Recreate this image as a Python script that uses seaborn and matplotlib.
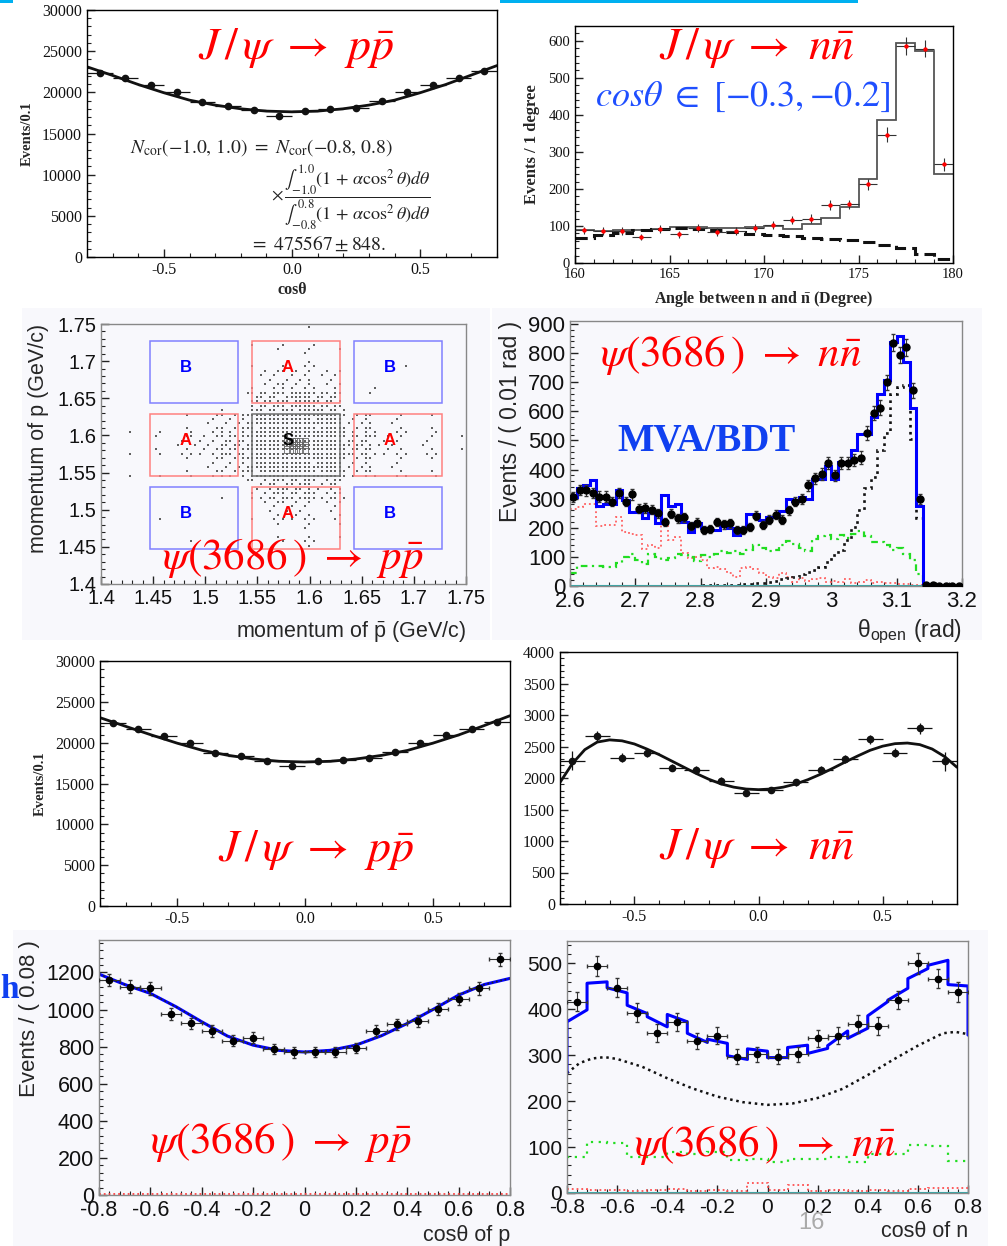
import numpy as np
import matplotlib
matplotlib.use("Agg")
import matplotlib.pyplot as plt
from matplotlib.patches import Rectangle
from matplotlib.ticker import MultipleLocator, FuncFormatter
import seaborn as sns

W, H = 1007, 1246

# ---------------- data ----------------
# J/psi -> p pbar, cos(theta), bin width 0.1 (top left and 3rd row left)
cos_c01 = [-0.75, -0.65, -0.55, -0.45, -0.35, -0.25, -0.15, -0.05,
           0.05, 0.15, 0.25, 0.35, 0.45, 0.55, 0.65, 0.75]
fit_x01 = [-0.8, -0.7, -0.6, -0.5, -0.4, -0.3, -0.2, -0.1, 0.0,
           0.1, 0.2, 0.3, 0.4, 0.5, 0.6, 0.7, 0.8]
jpsi_pp_a = [22400, 21700, 20850, 19980, 18830, 18350, 17820, 17170,
             17740, 17950, 18150, 18900, 19990, 20950, 21720, 22560]
jpsi_pp_a_fit = [23100, 22050, 20950, 19950, 19050, 18450, 18000, 17720, 17630,
                 17720, 18000, 18450, 19050, 19950, 20950, 22100, 23250]
jpsi_pp_b = [22400, 21710, 20820, 19960, 18780, 18370, 17760, 17140,
             17710, 17920, 18120, 18860, 20000, 20900, 21710, 22530]
jpsi_pp_b_fit = [23060, 22000, 20950, 19950, 19050, 18450, 18000, 17720, 17630,
                 17720, 18000, 18450, 19050, 19950, 20950, 22100, 23300]

# J/psi -> n nbar, cos(theta) (3rd row right)
jpsi_nn = [2274, 2665, 2322, 2401, 2164, 2127, 1958, 1768,
           1810, 1931, 2127, 2301, 2612, 2401, 2786, 2269]
jpsi_nn_err = [150, 80, 70, 65, 60, 60, 55, 55, 55, 55, 60, 60, 70, 70, 90, 150]
fit_x005 = [-0.80, -0.75, -0.70, -0.65, -0.60, -0.55, -0.50, -0.45, -0.40, -0.35, -0.30,
            -0.25, -0.20, -0.15, -0.10, -0.05, 0.00, 0.05, 0.10, 0.15, 0.20, 0.25,
            0.30, 0.35, 0.40, 0.45, 0.50, 0.55, 0.60, 0.65, 0.70, 0.75, 0.80]
jpsi_nn_fit = [1930, 2230, 2450, 2570, 2605, 2590, 2540, 2460, 2370, 2270, 2170,
               2070, 1980, 1905, 1855, 1825, 1815, 1825, 1855, 1905, 1975, 2060,
               2155, 2255, 2350, 2440, 2505, 2545, 2555, 2530, 2460, 2340, 2170]

# J/psi -> n nbar opening angle, cos(theta) in [-0.3,-0.2]
angle_edges = list(range(160, 181))
nn_angle_total = [88, 87, 88, 90, 92, 96, 98, 95, 95, 97,
                  100, 93, 106, 122, 150, 228, 386, 595, 573, 241]
nn_angle_bkg = [68, 75, 82, 88, 92, 95, 93, 88, 84, 79,
                75, 72, 68, 66, 63, 56, 48, 41, 25, 12]
nn_angle_data = [88, 86, 86, 70, 92, 77, 94, 84, 86, 94,
                 102, 115, 120, 156, 158, 213, 347, 586, 579, 266]
nn_angle_err = [10, 10, 10, 9, 10, 9, 10, 10, 10, 10,
                11, 11, 12, 13, 13, 15, 19, 24, 24, 17]

# psi(3686) -> p pbar momentum plane: counts per cell (rows top -> bottom)
mom_cells = [1.4400, 1.4694, 1.4988, 1.5282, 1.5576, 1.5870,
             1.6164, 1.6458, 1.6752, 1.7046, 1.7340]
mom_counts = [
    [0, 0, 0, 0, 1, 2, 1, 0, 0, 0, 0],
    [0, 0, 0, 0, 2, 5, 2, 0, 0, 1, 0],
    [0, 0, 0, 0, 9, 14, 9, 0, 1, 0, 0],
    [0, 0, 0, 2, 24, 30, 24, 2, 0, 0, 0],
    [1, 3, 6, 16, 33, 35, 33, 16, 6, 3, 1],
    [3, 6, 12, 24, 35, 35, 35, 24, 12, 6, 3],
    [1, 3, 6, 16, 33, 35, 33, 16, 6, 3, 1],
    [0, 0, 0, 2, 18, 26, 18, 1, 0, 0, 0],
    [0, 1, 0, 0, 7, 12, 7, 0, 0, 0, 0],
    [0, 0, 1, 0, 3, 5, 3, 0, 0, 0, 0],
    [0, 0, 0, 0, 0, 2, 0, 0, 0, 0, 0],
]
box_ranges = [(1.447, 1.531), (1.545, 1.629), (1.643, 1.727)]
box_names = [["B", "A", "B"], ["A", "S", "A"], ["B", "A", "B"]]

# psi(3686) -> n nbar opening angle (0.01 rad bins, 2.60 - 3.20)
theta_edges = np.round(np.arange(2.60, 3.2001, 0.01), 2)
bdt_total = [306, 335, 348, 363, 274, 283, 283, 331, 295, 255,
             255, 235, 249, 218, 312, 274, 283, 220, 186, 215,
             198, 192, 192, 215, 198, 174, 198, 247, 247, 226,
             238, 238, 258, 300, 292, 306, 300, 369, 369, 411,
             369, 426, 426, 468, 521, 521, 582, 660, 706, 837,
             860, 769, 612, 274, 0, 0, 0, 0, 0, 0]
bdt_data = [306, 330, 328, 320, 307, 307, 290, 320, 290, 315,
            265, 268, 262, 250, 220, 248, 233, 236, 207, 218,
            193, 196, 220, 212, 215, 193, 193, 203, 241, 209,
            228, 245, 228, 260, 290, 300, 346, 370, 384, 422,
            380, 422, 422, 433, 441, 525, 594, 612, 700, 836,
            793, 820, 672, 298, 5, 2, 1, 1, 1, 1]
bdt_err = [17, 18, 18, 18, 18, 18, 17, 18, 17, 18,
           16, 16, 16, 16, 15, 16, 15, 15, 14, 15,
           14, 14, 15, 15, 15, 14, 14, 14, 16, 14,
           15, 16, 15, 16, 17, 17, 19, 19, 20, 21,
           19, 21, 21, 21, 21, 23, 24, 25, 26, 29,
           28, 29, 26, 17, 2, 1, 1, 1, 1, 1]
bdt_bkg1 = [263, 272, 283, 283, 206, 209, 209, 238, 186, 180,
            175, 126, 140, 129, 209, 158, 169, 112, 95, 98,
            89, 61, 66, 57, 43, 32, 61, 64, 57, 43,
            32, 26, 43, 32, 15, 26, 18, 23, 26, 15,
            18, 15, 23, 11, 15, 21, 11, 15, 11, 9,
            7, 7, 5, 3, 0, 0, 0, 0, 0, 0]
bdt_bkg2 = [45, 70, 68, 68, 68, 65, 65, 80, 100, 110,
            90, 75, 110, 100, 90, 95, 110, 105, 100, 85,
            105, 100, 110, 120, 115, 120, 110, 125, 140, 130,
            120, 125, 140, 155, 145, 130, 120, 160, 170, 175,
            160, 175, 165, 180, 190, 170, 150, 150, 140, 125,
            130, 110, 90, 40, 0, 0, 0, 0, 0, 0]
bdt_sig = [1, 1, 1, 1, 1, 1, 1, 1, 1, 1,
           1, 1, 1, 1, 1, 1, 1, 1, 1, 1,
           2, 2, 2, 2, 2, 3, 6, 7, 9, 11,
           15, 18, 23, 26, 32, 41, 49, 55, 66, 83,
           106, 123, 158, 203, 260, 335, 375, 466, 525, 660,
           683, 689, 506, 232, 0, 0, 0, 0, 0, 0]

# psi(3686) -> p pbar, cos(theta) of p (0.08 bins)
cos_c008 = [-0.76, -0.68, -0.60, -0.52, -0.44, -0.36, -0.28, -0.20, -0.12, -0.04,
            0.04, 0.12, 0.20, 0.28, 0.36, 0.44, 0.52, 0.60, 0.68, 0.76]
cos_e008 = [-0.80, -0.72, -0.64, -0.56, -0.48, -0.40, -0.32, -0.24, -0.16, -0.08, 0.00,
            0.08, 0.16, 0.24, 0.32, 0.40, 0.48, 0.56, 0.64, 0.72, 0.80]
psi_pp = [1159, 1123, 1114, 975, 925, 884, 833, 848, 787, 769,
          772, 772, 794, 886, 920, 938, 1002, 1056, 1114, 1270]
psi_pp_err = [34, 34, 33, 31, 30, 30, 29, 29, 28, 28,
              28, 28, 28, 30, 30, 31, 32, 33, 33, 36]
psi_pp_fit = [1191, 1135, 1087, 1015, 934, 857, 808, 780, 771,
              780, 808, 859, 925, 1000, 1078, 1135, 1168]
psi_pp_bkg = [5, 6, 4, 5, 5, 4, 5, 6, 4, 5, 5, 4, 5, 6, 5, 4, 6, 5, 6, 5]

# psi(3686) -> n nbar, cos(theta) of n
psi_nn = [417, 495, 447, 393, 349, 373, 331, 343, 297, 302,
          297, 302, 337, 343, 368, 364, 420, 500, 467, 438]
psi_nn_err = [20, 22, 21, 20, 19, 19, 18, 19, 17, 17,
              17, 17, 18, 19, 19, 19, 20, 22, 21, 21]
psi_nn_tot_start = [373, 457, 447, 409, 384, 389, 348, 335, 299, 314,
                    295, 317, 304, 321, 337, 386, 420, 467, 496, 454]
psi_nn_tot_end = [399, 460, 436, 391, 362, 373, 328, 326, 291, 309,
                  295, 322, 315, 353, 359, 417, 446, 489, 507, 451]
psi_nn_tot_ends = (262, 344)
sig_x = [-0.8, -0.75, -0.7, -0.65, -0.6, -0.5, -0.4, -0.3, -0.2, -0.1, 0.0,
         0.1, 0.2, 0.3, 0.4, 0.5, 0.6, 0.7, 0.75, 0.8]
psi_nn_sig = [261, 283, 293, 296, 292, 275, 250, 228, 210, 198, 192,
              195, 207, 227, 257, 290, 321, 348, 351, 346]
psi_nn_bkg2 = [78, 112, 110, 78, 78, 90, 85, 90, 72, 73,
               68, 75, 75, 78, 68, 85, 85, 105, 103, 70]
psi_nn_bkg1 = [8, 7, 6, 5, 6, 9, 5, 6, 5, 22, 6, 17, 5, 6, 5, 6, 5, 8, 10, 10]

# ---------------- style ----------------
sns.set_theme(style="ticks")
plt.rcParams["font.family"] = ["Liberation Serif", "DejaVu Serif"]
plt.rcParams["mathtext.fontset"] = "stix"
plt.rcParams["axes.unicode_minus"] = False

RED = "#ff0000"
BG = "#f8f8fc"
SANS = "Liberation Sans"
BIG = 33
BIG_PSI = 31

fig = plt.figure(figsize=(W / 100, H / 100), dpi=100)
fig.patch.set_facecolor("white")


def pax(x0, y0, x1, y1, fc="white"):
    ax = fig.add_axes([x0 / W, 1 - y1 / H, (x1 - x0) / W, (y1 - y0) / H])
    ax.set_facecolor(fc)
    return ax


def ftext(x, y, s, **kw):
    fig.text(x / W, 1 - y / H, s, **kw)


def canvas(x0, y0, x1, y1):
    fig.patches.append(Rectangle((x0 / W, 1 - y1 / H), (x1 - x0) / W, (y1 - y0) / H,
                                 transform=fig.transFigure, fc=BG, ec="none", zorder=-5))


def root_axes(ax, xmaj, xmin, ymaj, ymin, size, sans=False, spine="black"):
    ax.xaxis.set_major_locator(MultipleLocator(xmaj))
    ax.xaxis.set_minor_locator(MultipleLocator(xmin))
    ax.yaxis.set_major_locator(MultipleLocator(ymaj))
    ax.yaxis.set_minor_locator(MultipleLocator(ymin))
    ax.tick_params(which="both", direction="in", top=False, right=False,
                   color="#222222", labelsize=size, labelcolor="#111111")
    ax.tick_params(which="major", length=6, width=1.0)
    ax.tick_params(which="minor", length=3, width=0.8)
    if sans:
        ax.tick_params(labelfontfamily=SANS)
    for s in ax.spines.values():
        s.set_color(spine)
        s.set_linewidth(1.0)
        s.set_visible(True)


gfmt = FuncFormatter(lambda v, p: "%g" % (round(v, 3) + 0.0))
f1 = FuncFormatter(lambda v, p: "%.1f" % (round(v, 3) + 0.0))

LBL_PP_J = r"$J\,/\,\psi\ \rightarrow\ p\bar{p}$"
LBL_NN_J = r"$J\,/\,\psi\ \rightarrow\ n\bar{n}$"
LBL_PP_PSI = r"$\psi(3686\,)\ \rightarrow\ p\bar{p}$"
LBL_NN_PSI = r"$\psi(3686\,)\ \rightarrow\ n\bar{n}$"

# cyan slide bars at the top
fig.patches.append(Rectangle((500 / W, 1 - 3 / H), 358 / W, 3 / H,
                             transform=fig.transFigure, fc="#00b0f0", ec="none"))
fig.patches.append(Rectangle((0, 1 - 3 / H), 13 / W, 3 / H,
                             transform=fig.transFigure, fc="#00b0f0", ec="none"))

# canvases of the ROOT (sans) plots
canvas(22, 308, 490, 640)
canvas(492, 308, 982, 640)
canvas(13, 930, 515, 1246)
canvas(510, 930, 988, 1246)

# ---------- panel 1: J/psi -> p pbar ----------
ax1 = pax(87, 10, 497, 257)
root_axes(ax1, 0.5, 0.1, 5000, 1000, 11.5)
ax1.set_xlim(-0.8, 0.8)
ax1.set_ylim(0, 30000)
ax1.xaxis.set_major_formatter(f1)
sns.lineplot(x=fit_x01, y=jpsi_pp_a_fit, ax=ax1, color="#111111", lw=2.0,
             estimator=None, sort=False, legend=False)
ax1.errorbar(cos_c01, jpsi_pp_a, xerr=0.05, yerr=150, fmt="o", ms=4.5, color="#111111",
             ecolor="#111111", elinewidth=0.9, capsize=0, zorder=5)
ax1.set_xlabel("cosθ", fontsize=11.5, fontweight="bold", labelpad=3)
ax1.set_ylabel("Events/0.1", fontsize=10.5, fontweight="bold", labelpad=6)
ftext(296, 48, LBL_PP_J, color=RED, fontsize=BIG, ha="center", va="center")
ftext(130, 148, r"$N_{\rm cor}(-1.0,\,1.0)\ =\ N_{\rm cor}(-0.8,\,0.8)$", fontsize=14,
      ha="left", va="center", color="#222222")
ftext(271, 197, r"$\times\,\dfrac{\int_{-1.0}^{1.0}(1\,+\,\alpha\cos^2\theta)d\theta}"
                r"{\int_{-0.8}^{0.8}(1\,+\,\alpha\cos^2\theta)d\theta}$",
      fontsize=13, ha="left", va="center", color="#222222")
ftext(250, 244, r"$=\ 475567 \pm 848.$", fontsize=14, ha="left", va="center", color="#222222")

# ---------- panel 2: J/psi -> n nbar opening angle ----------
ax2 = pax(575, 26, 953, 263)
root_axes(ax2, 5, 1, 100, 20, 10.5)
ax2.set_xlim(160, 180)
ax2.set_ylim(0, 640)
ax2.stairs(nn_angle_total, angle_edges, baseline=None, color="#555555", lw=1.3)
ax2.stairs(nn_angle_bkg, angle_edges, baseline=None, color="#111111", lw=2.2,
           linestyle=(0, (4, 2)))
ang_c = [e + 0.5 for e in angle_edges[:-1]]
ax2.errorbar(ang_c, nn_angle_data, xerr=0.5, yerr=nn_angle_err, fmt="none",
             ecolor="#333333", elinewidth=0.8, zorder=4)
sns.scatterplot(x=ang_c, y=nn_angle_data, ax=ax2, color=RED, s=10, linewidth=0,
                zorder=5, legend=False)
ax2.set_xlabel(r"Angle between n and $\bar{\mathregular{n}}$ (Degree)", fontsize=11.5,
               fontweight="bold", labelpad=6)
ax2.set_ylabel("Events / 1 degree", fontsize=12, fontweight="bold", labelpad=6)
ftext(757, 48, LBL_NN_J, color=RED, fontsize=BIG, ha="center", va="center")
ftext(743, 97, r"$cos\theta\ \in\ [{-}0.3,{-}0.2]$", color="#1f4fff", fontsize=26,
      ha="center", va="center")

# ---------- panel 3: psi(3686) -> p pbar momentum plane ----------
ax3 = pax(101, 324, 466, 584, fc=BG)
root_axes(ax3, 0.05, 0.01, 0.05, 0.01, 14.5, sans=True, spine="#888888")
ax3.set_xlim(1.4, 1.75)
ax3.set_ylim(1.4, 1.75)
ax3.xaxis.set_major_formatter(gfmt)
ax3.yaxis.set_major_formatter(gfmt)
cell = mom_cells[1] - mom_cells[0]
sub_x = (np.arange(7) - 3) * cell / 7
sub_y = (np.arange(5) - 2) * cell / 5
sub_pts = [(dx, dy) for dy in sub_y for dx in sub_x]
fill_order = np.argsort((np.arange(len(sub_pts)) * 0.618034) % 1.0)
dots_x, dots_y = [], []
for r, row in enumerate(mom_counts):
    cy = mom_cells[len(mom_cells) - 1 - r]
    for c, n in enumerate(row):
        cx = mom_cells[c]
        for k in fill_order[:n]:
            dots_x.append(cx + sub_pts[k][0])
            dots_y.append(cy + sub_pts[k][1])
sns.scatterplot(x=dots_x, y=dots_y, ax=ax3, s=2.5, marker="s", color="#606060",
                linewidth=0, legend=False, zorder=3)
centre_x = [mom_cells[5] + d for d in sub_x[1:6]]
centre_y = [mom_cells[5] + d for d in sub_y[1:4]]
bx, by = np.meshgrid(centre_x, centre_y)
ax3.scatter(bx.ravel(), by.ravel(), s=20, marker="s", facecolor="none",
            edgecolor="#666666", linewidth=0.6, zorder=3)
for i, (y0, y1) in enumerate(box_ranges):
    for j, (x0, x1) in enumerate(box_ranges):
        name = box_names[2 - i][j]
        col = {"A": "#ff8080", "B": "#8080ff", "S": "#707070"}[name]
        tcol = {"A": "#ff0000", "B": "#0000ff", "S": "#000000"}[name]
        ax3.add_patch(Rectangle((x0, y0), x1 - x0, y1 - y0, fc="none", ec=col, lw=1.1, zorder=4))
        ax3.text((x0 + x1) / 2 - 0.008, (y0 + y1) / 2 + 0.006, name, color=tcol,
                 fontsize=12, fontweight="bold", family=SANS, ha="center", va="center", zorder=6)
ax3.set_xlabel(r"momentum of $\bar{\mathregular{p}}$ (GeV/c)", family=SANS, fontsize=15.5,
               loc="right", labelpad=8)
ax3.set_ylabel("momentum of p (GeV/c)", family=SANS, fontsize=15.5, loc="top", labelpad=6)
ftext(293, 558, LBL_PP_PSI, color=RED, fontsize=BIG_PSI, ha="center", va="center")

# ---------- panel 4: psi(3686) -> n nbar opening angle ----------
ax4 = pax(570, 321, 962, 586, fc=BG)
root_axes(ax4, 0.1, 0.02, 100, 20, 16, sans=True, spine="#888888")
ax4.set_xlim(2.6, 3.2)
ax4.set_ylim(0, 910)
ax4.xaxis.set_major_formatter(gfmt)
ax4.stairs(bdt_bkg1, theta_edges, baseline=None, color="#ff6060", lw=1.3, linestyle=":")
ax4.stairs(bdt_bkg2, theta_edges, baseline=None, color="#22dd22", lw=1.6,
           linestyle=(0, (3, 2, 1, 2)))
ax4.stairs(bdt_sig, theta_edges, baseline=None, color="#111111", lw=1.9, linestyle=":")
ax4.stairs(bdt_total, theta_edges, baseline=None, color="#0000ff", lw=2.2)
ax4.axhline(0, color="#33aaaa", lw=1.5)
th_c = (theta_edges[:-1] + theta_edges[1:]) / 2
ax4.errorbar(th_c, bdt_data, yerr=bdt_err, fmt="o", ms=5, color="#000000",
             ecolor="#333333", elinewidth=0.8, capsize=1.5, zorder=5)
ax4.set_xlabel(r"θ$_{\mathregular{open}}$ (rad)", family=SANS, fontsize=16.5,
               loc="right", labelpad=4)
ax4.set_ylabel("Events / ( 0.01 rad )", family=SANS, fontsize=16.5, loc="top", labelpad=4)
ftext(731, 355, LBL_NN_PSI, color=RED, fontsize=BIG_PSI, ha="center", va="center")
ftext(706, 441, "MVA/BDT", color="#1040f0", fontsize=28, fontweight="bold",
      ha="center", va="center")

# ---------- panel 5: J/psi -> p pbar (again) ----------
ax5 = pax(100, 661, 510, 906)
root_axes(ax5, 0.5, 0.1, 5000, 1000, 11.5)
ax5.set_xlim(-0.8, 0.8)
ax5.set_ylim(0, 30000)
ax5.xaxis.set_major_formatter(f1)
sns.lineplot(x=fit_x01, y=jpsi_pp_b_fit, ax=ax5, color="#111111", lw=2.0,
             estimator=None, sort=False, legend=False)
ax5.errorbar(cos_c01, jpsi_pp_b, xerr=0.05, yerr=150, fmt="o", ms=4.5, color="#111111",
             ecolor="#111111", elinewidth=0.9, capsize=0, zorder=5)
ax5.set_ylabel("Events/0.1", fontsize=10.5, fontweight="bold", labelpad=6)
ftext(316, 850, LBL_PP_J, color=RED, fontsize=BIG, ha="center", va="center")

# ---------- panel 6: J/psi -> n nbar ----------
ax6 = pax(560, 652, 957, 904)
root_axes(ax6, 0.5, 0.1, 500, 100, 11.5)
ax6.set_xlim(-0.8, 0.8)
ax6.set_ylim(0, 4000)
ax6.xaxis.set_major_formatter(f1)
sns.lineplot(x=fit_x005, y=jpsi_nn_fit, ax=ax6, color="#111111", lw=2.0,
             estimator=None, sort=False, legend=False)
ax6.errorbar(cos_c01, jpsi_nn, xerr=0.05, yerr=jpsi_nn_err, fmt="o", ms=4.5, color="#111111",
             ecolor="#111111", elinewidth=0.9, capsize=0, zorder=5)
ftext(757, 848, LBL_NN_J, color=RED, fontsize=BIG, ha="center", va="center")

# ---------- panel 7: psi(3686) -> p pbar cos ----------
ax7 = pax(99, 940, 510, 1195, fc=BG)
root_axes(ax7, 0.2, 0.04, 200, 40, 15.5, sans=True, spine="#888888")
ax7.set_xlim(-0.8, 0.8)
ax7.set_ylim(0, 1375)
ax7.xaxis.set_major_formatter(gfmt)
ax7.stairs(psi_pp_bkg, cos_e008, baseline=None, color="#ff4040", lw=1.3, linestyle=":")
sns.lineplot(x=fit_x01, y=psi_pp_fit, ax=ax7, color="#0000ff", lw=2.2,
             estimator=None, sort=False, legend=False)
sns.lineplot(x=fit_x01, y=psi_pp_fit, ax=ax7, color="#222222", lw=1.2, linestyle=":",
             estimator=None, sort=False, legend=False)
ax7.errorbar(cos_c008, psi_pp, xerr=0.04, yerr=psi_pp_err, fmt="o", ms=4.5, color="#000000",
             ecolor="#333333", elinewidth=0.8, capsize=1.5, zorder=5)
ax7.set_xlabel("cosθ of p", family=SANS, fontsize=15.5, loc="right", labelpad=3)
ax7.set_ylabel("Events / ( 0.08 )", family=SANS, fontsize=16, loc="top", labelpad=4)
ftext(281, 1142, LBL_PP_PSI, color=RED, fontsize=BIG_PSI, ha="center", va="center")

# ---------- panel 8: psi(3686) -> n nbar cos ----------
ax8 = pax(567, 941, 968, 1193, fc=BG)
root_axes(ax8, 0.2, 0.04, 100, 20, 15, sans=True, spine="#888888")
ax8.set_xlim(-0.8, 0.8)
ax8.set_ylim(0, 549)
ax8.xaxis.set_major_formatter(gfmt)
ax8.stairs(psi_nn_bkg1, cos_e008, baseline=None, color="#ff5050", lw=1.3, linestyle=":")
ax8.stairs(psi_nn_bkg2, cos_e008, baseline=None, color="#22dd22", lw=1.6,
           linestyle=(0, (1, 2.5)))
sns.lineplot(x=sig_x, y=psi_nn_sig, ax=ax8, color="#111111", lw=1.8, linestyle=(0, (1, 1.5)),
             estimator=None, sort=False, legend=False)
tot_x = [cos_e008[0]]
tot_y = [psi_nn_tot_ends[0]]
for i in range(len(psi_nn_tot_start)):
    tot_x += [cos_e008[i], cos_e008[i + 1]]
    tot_y += [psi_nn_tot_start[i], psi_nn_tot_end[i]]
tot_x.append(cos_e008[-1])
tot_y.append(psi_nn_tot_ends[1])
sns.lineplot(x=tot_x, y=tot_y, ax=ax8, color="#0000ff", lw=2.2,
             estimator=None, sort=False, legend=False)
ax8.axhline(0, color="#33aaaa", lw=1.5)
ax8.errorbar(cos_c008, psi_nn, xerr=0.04, yerr=psi_nn_err, fmt="o", ms=4.5, color="#000000",
             ecolor="#333333", elinewidth=0.8, capsize=1.5, zorder=5)
ax8.set_xlabel("cosθ of n", family=SANS, fontsize=15.5, loc="right", labelpad=3)
ftext(765, 1145, LBL_NN_PSI, color=RED, fontsize=BIG_PSI, ha="center", va="center")

# slide leftovers
ftext(0, 990, "h", color="#1040f0", fontsize=24, fontweight="bold", ha="left", va="center")
ftext(811, 1223, "16", color="#aaaaaa", fontsize=17, family=SANS, ha="center", va="center")

fig.savefig("out.png", dpi=100)
